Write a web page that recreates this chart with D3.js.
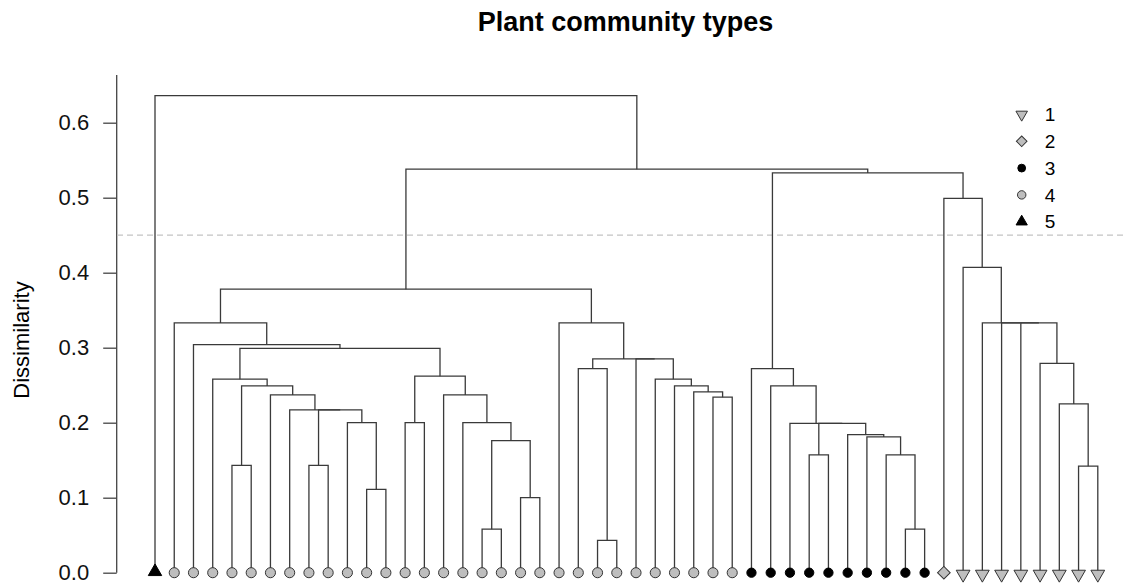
<!DOCTYPE html>
<html>
<head>
    <title>Plant community types</title>
    <script src="https://d3js.org/d3.v7.min.js"></script>
    <style>
        body { margin: 0; background: #fff; }
        svg { font-family: "Liberation Sans", Arial, sans-serif; }
        .branch { fill: none; stroke: #3a3a3a; stroke-width: 1.3px; }
        .cut { stroke: #c4c4c4; stroke-width: 1.3px; stroke-dasharray: 6,4; }
        .axis text { font-size: 22px; fill: #111; }
        .axis line, .axis-line { stroke: #444; stroke-width: 1.3px; }
    </style>
</head>
<body>
    <div id="chart"></div>

    <script>
        // leaf types in plotted order (1..5)
        let leafTypes = [5,
            4, 4, 4, 4, 4, 4, 4, 4, 4, 4, 4, 4, 4, 4, 4, 4, 4, 4, 4, 4,
            4, 4, 4, 4, 4, 4, 4, 4, 4, 4,
            3, 3, 3, 3, 3, 3, 3, 3, 3, 3,
            2,
            1, 1, 1, 1, 1, 1, 1, 1];

        // hclust style merge table: negative = leaf number, positive = earlier merge
        let mergeA = [-5, -9, -12, -11, 2, -8, -7, 1, -4, -14, -18, -20, 11, -17, -16, 10, 9, -3, -2,
            -24, -23, -30, -29, -28, -27, -26, 21, -22, 19,
            -40, -39, -38, -37, -35, 34, -34, -33, -32,
            -49, -48, -47, -46, -45, -44, -43, -42, 38, 29, -1];
        let mergeB = [-6, -10, -13, 3, 4, 5, 6, 7, 8, -15, -19, -21, 12, 13, 14, 15, 16, 17, 18,
            -25, 20, -31, 22, 23, 24, 25, 26, 27, 28,
            -41, 30, 31, 32, -36, 33, 35, 36, 37,
            -50, 39, 40, 41, 42, 43, 44, 45, 46, 47, 48];
        let mergeHeight = [0.143, 0.143, 0.111, 0.2, 0.217, 0.217, 0.237, 0.249, 0.258, 0.2, 0.058, 0.1, 0.176, 0.2, 0.237, 0.262, 0.299, 0.304, 0.333,
            0.043, 0.272, 0.234, 0.241, 0.249, 0.258, 0.285, 0.285, 0.333, 0.378,
            0.058, 0.157, 0.181, 0.184, 0.157, 0.199, 0.199, 0.249, 0.272,
            0.142, 0.225, 0.279, 0.333, 0.333, 0.333, 0.407, 0.499, 0.533, 0.538, 0.636];

        let yTicks = [0, 0.1, 0.2, 0.3, 0.4, 0.5, 0.6];
        let cutHeight = 0.45;
        let legendLabels = ["1", "2", "3", "4", "5"];

        let width = 1123, height = 586;

        let svg = d3.select("#chart").append("svg")
            .attr("width", width)
            .attr("height", height);

        let x = d3.scaleLinear().domain([0, leafTypes.length - 1]).range([155, 1097.8]);
        let y = d3.scaleLinear().domain([0, 0.6]).range([572.7, 122.7]);

        // title
        svg.append("text")
            .attr("x", 625.5)
            .attr("y", 31)
            .attr("text-anchor", "middle")
            .style("font-size", "27px")
            .style("font-weight", "bold")
            .text("Plant community types");

        // y axis
        svg.append("line")
            .attr("class", "axis-line")
            .attr("x1", 116.7).attr("x2", 116.7)
            .attr("y1", y(0)).attr("y2", y(0.6636));

        let axis = svg.append("g")
            .attr("class", "axis")
            .attr("transform", "translate(116.7,0)")
            .call(d3.axisLeft(y).tickValues(yTicks).tickFormat(d3.format(".1f"))
                .tickSize(13.5).tickPadding(14));
        axis.select(".domain").remove();

        svg.append("text")
            .attr("transform", "translate(29,340) rotate(-90)")
            .attr("text-anchor", "middle")
            .style("font-size", "22px")
            .text("Dissimilarity");

        // cut line
        svg.append("line")
            .attr("class", "cut")
            .attr("x1", 117).attr("x2", width)
            .attr("y1", y(cutHeight)).attr("y2", y(cutHeight));

        // build branches from merge table
        let nodeX = [], nodeH = [];
        let branches = [];
        function child(k) {
            if (k < 0) return {x: x(-k - 1), h: 0};
            return {x: nodeX[k - 1], h: nodeH[k - 1]};
        }
        for (let i = 0; i < mergeA.length; i++) {
            let a = child(mergeA[i]), b = child(mergeB[i]);
            let h = mergeHeight[i];
            branches.push({a: a, b: b, h: h});
            nodeX.push((a.x + b.x) / 2);
            nodeH.push(h);
        }

        svg.selectAll(".branch")
            .data(branches)
            .enter().append("path")
            .attr("class", "branch")
            .attr("d", d => "M" + d.a.x + "," + y(d.a.h) + "V" + y(d.h) + "H" + d.b.x + "V" + y(d.b.h));

        // symbols per type
        let symStyle = {
            1: {type: d3.symbolTriangle, size: 82, rotate: 180, fill: "#bebebe", stroke: "#333"},
            2: {type: d3.symbolSquare, size: 80, rotate: 45, fill: "#bebebe", stroke: "#333"},
            3: {type: d3.symbolCircle, size: 68, rotate: 0, fill: "#000", stroke: "#000"},
            4: {type: d3.symbolCircle, size: 80, rotate: 0, fill: "#bebebe", stroke: "#333"},
            5: {type: d3.symbolTriangle, size: 78, rotate: 0, fill: "#000", stroke: "#000"}
        };
        function symbolPath(t, scale) {
            return d3.symbol().type(symStyle[t].type).size(symStyle[t].size * scale)();
        }

        svg.selectAll(".leaf")
            .data(leafTypes)
            .enter().append("path")
            .attr("class", "leaf")
            .attr("d", d => symbolPath(d, 1))
            .attr("transform", (d, i) => "translate(" + x(i) + "," + (y(0) + (d === 1 ? 1.5 : d === 5 ? -1 : 0)) + ") rotate(" + symStyle[d].rotate + ")")
            .attr("fill", d => symStyle[d].fill)
            .attr("stroke", d => symStyle[d].stroke)
            .attr("stroke-width", 1);

        // legend
        let legend = svg.selectAll(".legend")
            .data(legendLabels)
            .enter().append("g")
            .attr("class", "legend")
            .attr("transform", (d, i) => "translate(1021.7," + (114.5 + i * 26.8) + ")");

        legend.append("path")
            .attr("d", (d, i) => symbolPath(i + 1, 0.7))
            .attr("transform", (d, i) => "rotate(" + symStyle[i + 1].rotate + ")")
            .attr("fill", (d, i) => symStyle[i + 1].fill)
            .attr("stroke", (d, i) => symStyle[i + 1].stroke)
            .attr("stroke-width", 1);

        legend.append("text")
            .attr("x", 23)
            .attr("dy", "0.35em")
            .style("font-size", "19px")
            .text(d => d);
    </script>
</body>
</html>
